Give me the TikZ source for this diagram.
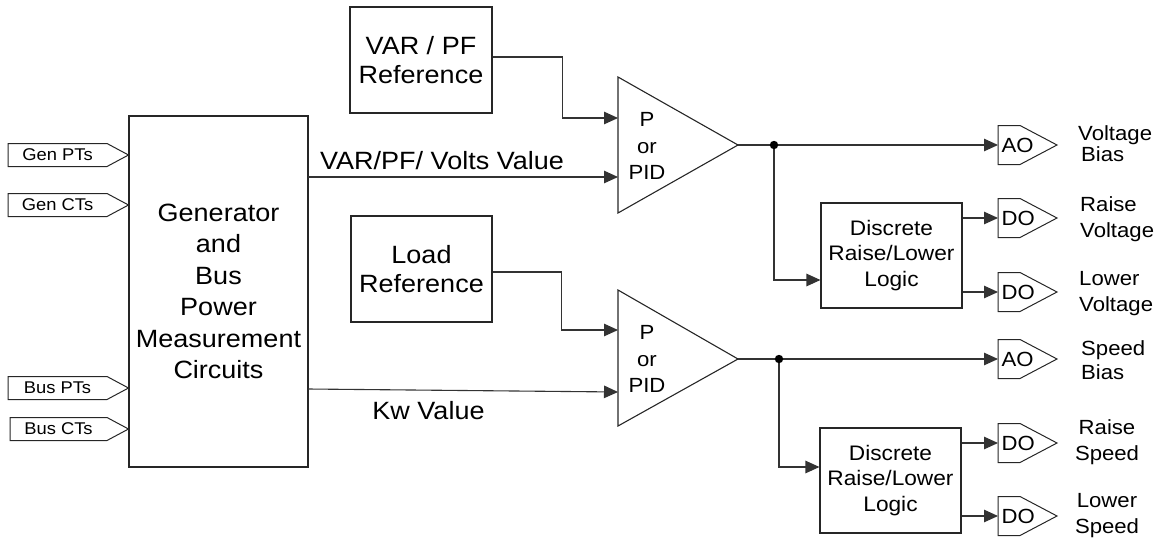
\documentclass[tikz,border=0pt]{standalone}
\usepackage{fontspec}
\setmainfont{Liberation Sans}[FakeStretch=1.08]
\usetikzlibrary{arrows.meta}

\newcommand{\fs}[2]{\fontsize{#1}{#2}\selectfont}

% input signal tag: name, left x, centre y, text (tip touches the measurement box)
\newcommand{\intag}[4]{%
  \draw[tagline] (#2,#3-11.5) -- (107,#3-11.5) -- (128.5,#3) -- (107,#3+11.5) -- (#2,#3+11.5) -- cycle;
  \node[intxt] (#1) at ({(#2+107)/2},#3) {#4};}

% output signal tag: name, centre y, text
\newcommand{\outtag}[3]{%
  \draw[tagline] (998,#2-19.5) -- (1020,#2-19.5) -- (1057,#2) -- (1020,#2+19.5) -- (998,#2+19.5) -- cycle;
  \node[outtxt, anchor=west] (#1) at (998,#2) {#3};}

\begin{document}
\begin{tikzpicture}[x=1pt,y=-1pt,
  wire/.style={line width=1.1pt, draw=black!80},
  feed/.style={wire, -{Triangle[length=14pt,width=12.5pt]}},
  blk/.style={draw=black!85, line width=1.1pt, align=center, inner sep=0pt},
  tagline/.style={draw=black!85, line width=1pt},
  intxt/.style={font=\fs{17}{19}, inner sep=0pt},
  outtxt/.style={font=\fs{20.5}{22}, inner xsep=3.5pt, inner ysep=0pt},
  bigtxt/.style={font=\fs{25}{31.5}},
  reftxt/.style={font=\fs{25}{29.5}},
  midtxt/.style={font=\fs{21}{25.5}},
  pidtxt/.style={font=\fs{20.5}{26.5}, align=center, inner sep=0pt},
  lbl/.style={font=\fs{20.5}{26}, inner sep=0pt},
  dot/.style={fill=black}]
\useasboundingbox (0,0) rectangle (1158,543);

% measurement block and its inputs
\node[blk, bigtxt, minimum width=179pt, minimum height=351pt] (meas) at (218.5,291.5)
  {Generator\\and\\Bus\\Power\\Measurement\\Circuits};
\intag{genpt}{8}{155}{Gen PTs}
\intag{genct}{8}{205}{Gen CTs}
\intag{buspt}{8}{388}{Bus PTs}
\intag{busct}{10}{429}{Bus CTs}

% reference blocks
\node[blk, reftxt, minimum width=142pt, minimum height=106pt] (varref) at (421,60) {VAR / PF\\Reference};
\node[blk, reftxt, minimum width=141pt, minimum height=106pt] (loadref) at (421.5,269) {Load\\Reference};

% controllers
\draw[blk] (618,77) -- (738,145) -- (618,213) -- cycle;
\node[pidtxt] (pid1) at (647,146) {P\\or\\PID};
\coordinate (pid1a) at (618,118);
\coordinate (pid1b) at (618,177);
\coordinate (pid1out) at (738,145);

\draw[blk] (618,290) -- (738,359) -- (618,426) -- cycle;
\node[pidtxt] (pid2) at (647,359) {P\\or\\PID};
\coordinate (pid2a) at (618,330);
\coordinate (pid2b) at (618,392);
\coordinate (pid2out) at (738,359);

% feedback values
\coordinate (varout) at (308,177);
\coordinate (kwout) at (308,389);
\draw[feed] (varout) -- (pid1b);
\draw[feed] (kwout) -- (pid2b);
\node[bigtxt] (varlbl) at (442,161) {VAR/PF/ Volts Value};
\node[bigtxt] (kwlbl) at (428.5,411) {Kw Value};

% references into controllers
\draw[feed] ([yshift=3pt]varref.east) -- ++(70,0) |- (pid1a);
\draw[feed] ([yshift=-3pt]loadref.east) -- ++(69,0) |- (pid2a);

% raise/lower logic blocks
\node[blk, midtxt, minimum width=141pt, minimum height=105pt] (logic1) at (891.5,255.5)
  {Discrete\\Raise/Lower\\Logic};
\node[blk, midtxt, minimum width=141pt, minimum height=105pt] (logic2) at (890.5,480.5)
  {Discrete\\Raise/Lower\\Logic};

% output tags
\outtag{ao1}{145}{AO}
\outtag{do1}{218}{DO}
\outtag{do2}{292}{DO}
\outtag{ao2}{359}{AO}
\outtag{do3}{443}{DO}
\outtag{do4}{516}{DO}

% controller outputs
\coordinate (dot1) at (774,145);
\coordinate (dot2) at (779,359);
\draw[wire] (pid1out) -- (dot1);
\draw[wire] (pid2out) -- (dot2);
\draw[feed] (dot1) -- (ao1);
\draw[feed] (dot2) -- (ao2);
\draw[feed] (dot1) |- ([yshift=-24.5pt]logic1.west);
\draw[feed] (dot2) |- ([yshift=13.5pt]logic2.west);
\fill[dot] (dot1) circle (4.2pt);
\fill[dot] (dot2) circle (4.2pt);

% logic outputs
\draw[feed] (logic1.east |- do1) -- (do1);
\draw[feed] (logic1.east |- do2) -- (do2);
\draw[feed] (logic2.east |- do3) -- (do3);
\draw[feed] (logic2.east |- do4) -- (do4);

% output labels
\node[lbl, font=\fs{20.5}{21}, anchor=west, align=left] (vbias) at (1078,143.5) {Voltage\\\hspace*{3pt}Bias};
\node[lbl, anchor=west, align=left] (vraise) at (1080,219) {Raise\\Voltage};
\node[lbl, anchor=west, align=left] (vlower) at (1079,293.5) {Lower\\Voltage};
\node[lbl, font=\fs{20.5}{24}, anchor=west, align=left] (sbias) at (1081,360) {Speed\\Bias};
\node[lbl, align=center] (sraise) at (1107,442.5) {Raise\\Speed};
\node[lbl, align=center] (slower) at (1107,516) {Lower\\Speed};
\end{tikzpicture}
\end{document}
